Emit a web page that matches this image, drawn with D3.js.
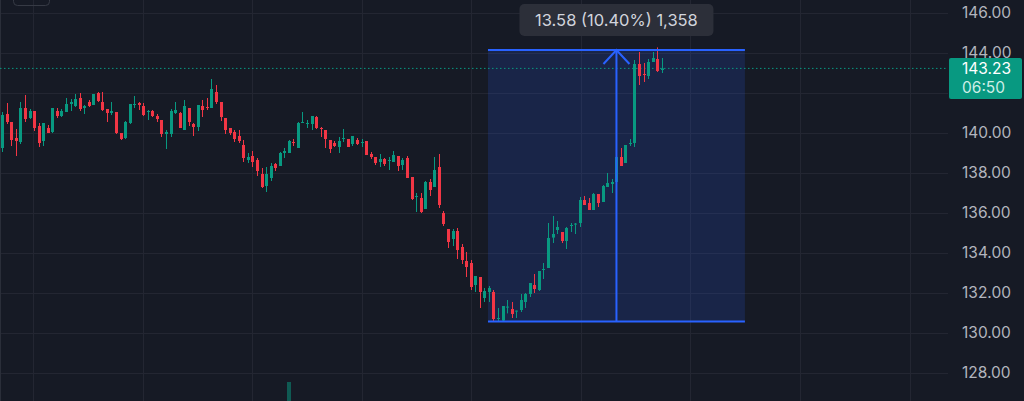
<!DOCTYPE html>
<html>
<head>
<meta charset="utf-8">
<script src="https://cdn.jsdelivr.net/npm/d3@7"></script>
<style>
  html, body { margin: 0; padding: 0; background: #161a25; overflow: hidden; }
  text { font-family: "Inter", "Roboto", sans-serif; }
</style>
</head>
<body>
<div id="chart"></div>
<script>
// candles: [open, high, low, close]
var ohlc = [
  [139.25,141.05,139.05,140.90],[140.95,141.50,140.45,140.55],[140.55,140.55,139.35,139.65],[139.75,140.20,138.85,139.60],
  [139.55,141.55,139.45,141.25],[141.25,141.90,140.55,140.70],[140.75,141.20,140.70,141.10],[141.10,141.10,140.10,140.25],
  [140.35,140.50,139.30,139.50],[139.60,140.50,139.35,140.50],[140.25,140.40,140.00,140.00],[140.05,141.25,140.00,141.25],
  [141.10,141.25,140.75,140.85],[140.85,141.20,140.80,141.10],[141.05,141.75,141.05,141.45],[141.45,141.70,141.10,141.55],
  [141.35,141.95,141.30,141.70],[141.75,142.00,141.10,141.20],[141.25,141.40,140.95,141.35],[141.55,141.65,141.30,141.35],
  [141.40,141.95,141.40,141.95],[142.00,142.05,141.55,141.60],[141.55,142.05,141.10,141.15],[141.20,141.20,140.55,141.00],
  [141.00,141.55,140.90,141.10],[141.05,141.05,139.95,140.00],[140.00,140.00,139.65,139.70],[139.75,140.60,139.70,140.55],
  [140.50,141.45,140.45,141.45],[141.40,141.85,141.25,141.45],[141.50,141.55,141.15,141.40],[141.35,141.50,140.85,140.90],
  [141.05,141.15,140.65,141.10],[141.10,141.15,140.80,140.85],[140.85,140.95,140.55,140.70],[140.65,140.65,139.80,139.95],
  [139.95,140.15,139.20,140.05],[139.95,141.20,139.80,141.10],[141.00,141.55,140.95,141.15],[141.00,141.05,140.25,140.25],
  [140.15,141.65,140.15,141.35],[141.25,141.25,140.35,140.55],[140.45,140.50,139.85,140.30],[140.30,141.40,140.10,141.40],
  [141.35,141.65,140.80,141.15],[141.30,141.75,141.15,141.25],[141.25,142.70,141.25,142.20],[142.05,142.40,141.45,141.55],
  [141.55,141.55,140.60,140.80],[140.75,140.75,139.95,140.15],[140.25,140.25,139.90,140.00],[140.05,140.15,139.55,139.70],
  [139.85,140.15,139.50,139.60],[139.40,139.65,138.55,138.75],[138.65,139.00,138.50,138.80],[138.85,139.10,138.30,138.55],
  [138.65,138.75,137.85,138.10],[137.95,138.25,137.25,137.30],[137.35,138.30,137.05,137.95],[137.75,138.50,137.60,138.35],
  [138.45,138.50,138.10,138.25],[138.35,139.05,138.35,139.00],[139.00,139.25,138.75,139.10],[139.00,139.65,139.00,139.60],
  [139.55,139.70,139.35,139.50],[139.25,140.55,139.25,140.50],[140.50,141.05,140.50,140.55],[140.45,140.65,140.25,140.50],
  [140.45,140.85,140.15,140.85],[140.80,140.85,140.20,140.25],[140.25,140.30,139.80,140.20],[140.15,140.15,139.25,139.70],
  [139.65,139.65,139.00,139.20],[139.50,139.60,139.30,139.35],[139.30,139.80,139.00,139.60],[139.70,140.20,139.55,139.75],
  [139.70,139.70,139.30,139.30],[139.45,139.85,139.35,139.85],[139.65,139.75,139.40,139.45],[139.50,139.70,139.30,139.55],
  [139.60,139.60,138.90,138.90],[138.95,139.05,138.70,138.80],[138.80,138.80,138.40,138.50],[138.55,138.95,138.30,138.70],
  [138.70,138.75,138.35,138.45],[138.60,138.80,138.15,138.65],[138.55,139.10,138.55,138.90],[138.85,138.85,138.10,138.35],
  [138.40,138.75,138.15,138.65],[138.75,138.85,137.75,137.75],[137.80,137.80,136.65,136.70],[136.80,137.00,136.05,136.85],
  [136.75,137.00,136.00,136.05],[136.20,137.60,136.20,137.55],[137.55,137.70,136.85,137.15],[137.30,138.80,137.30,138.15],
  [138.30,138.95,136.25,136.40],[136.00,136.10,135.35,135.45],[135.20,135.20,134.25,134.55],[134.70,135.20,134.35,135.10],
  [135.10,135.25,133.70,134.15],[134.30,134.45,133.45,133.65],[133.60,134.05,132.80,133.30],[133.50,133.65,132.15,132.30],
  [132.40,132.85,132.05,132.85],[132.80,132.80,131.25,132.05],[131.75,132.25,131.55,132.10],[132.05,132.35,131.55,132.25],
  [132.05,132.15,130.60,130.70],[130.70,131.25,130.60,130.75],[130.62,131.35,130.57,131.35],[131.28,131.65,130.98,131.32],
  [131.20,131.55,130.75,130.95],[131.07,131.12,130.75,131.12],[131.15,131.95,131.05,131.65],[131.55,132.00,131.25,131.95],
  [131.95,132.50,131.80,132.50],[132.40,132.95,132.00,132.20],[132.15,133.10,132.10,133.10],[133.15,133.50,132.70,133.20],
  [133.25,135.50,133.25,134.75],[134.77,135.85,134.50,134.95],[135.15,135.60,134.95,135.30],[135.05,135.05,134.50,134.60],
  [134.60,135.30,134.20,135.25],[135.37,135.50,135.05,135.40],[135.43,135.50,134.95,135.47],[135.50,136.80,135.30,136.65],
  [136.65,136.85,136.40,136.40],[136.50,136.75,136.15,136.15],[136.15,137.00,136.15,136.95],[136.95,136.95,136.30,136.50],
  [136.55,137.40,136.55,137.35],[137.30,138.00,137.30,137.50],[137.45,137.70,137.00,137.55],[137.55,138.80,137.55,138.80],
  [138.80,139.25,138.35,138.35],[138.50,139.40,138.50,139.40],[139.45,139.70,139.35,139.50],[139.50,143.65,139.30,143.45],
  [143.45,144.05,142.40,142.85],[142.95,143.50,142.55,142.90],[142.85,143.70,142.70,143.55],[143.55,144.05,143.55,143.75],
  [143.70,144.28,143.05,143.10],[143.15,143.75,143.00,143.23]
];

// 142.00 sits under the last-price tag, so it is not labelled
var priceTicks = [128, 130, 132, 134, 136, 138, 140, 142, 144, 146];
var priceLabels = [128, 130, 132, 134, 136, 138, 140, 144, 146];
var timeGrid = [6.75, 30.9, 55.0, 79.1, 103.1, 127.2, 151.3, 175.4, 199.5];
var volumeBars = [{ idx: 63, vol: 1 }];

var lastPrice = 143.23;
var countdown = "06:50";

// price range measure
var measStart = 106.8, measEnd = 163.3;
var measLow = 130.57, measHigh = 144.15;

var W = 1024, H = 401, plotRight = 948;
var up = "#089981", down = "#f23645";

var svg = d3.select("#chart").append("svg")
    .attr("width", W).attr("height", H)
    .style("display", "block");

svg.append("rect").attr("width", W).attr("height", H).attr("fill", "#161a25");

var x = d3.scaleLinear().domain([0, ohlc.length - 1]).range([2.3, 661.7]);
var y = d3.scaleLinear().domain([128, 146]).range([373, 13]);

// grid
svg.append("g").selectAll("line").data(timeGrid).join("line")
    .attr("x1", d => Math.round(x(d)) + 0.5).attr("x2", d => Math.round(x(d)) + 0.5)
    .attr("y1", 0).attr("y2", H)
    .attr("stroke", "#232632").attr("stroke-width", 1);

svg.append("g").selectAll("line").data(priceTicks).join("line")
    .attr("x1", 0).attr("x2", plotRight)
    .attr("y1", d => Math.round(y(d)) + 0.5).attr("y2", d => Math.round(y(d)) + 0.5)
    .attr("stroke", "#232632").attr("stroke-width", 1);

// left edge border
svg.append("line").attr("x1", 0.5).attr("x2", 0.5).attr("y1", 0).attr("y2", H)
    .attr("stroke", "#2a2e39");

// small button outline top left
svg.append("rect").attr("x", 13.5).attr("y", -10).attr("width", 36).attr("height", 15.5)
    .attr("rx", 4).attr("fill", "none").attr("stroke", "#363a45");

// measure box
var mx0 = x(measStart), mx1 = x(measEnd);
var myTop = y(measHigh), myBot = y(measLow);
var ax = (mx0 + mx1) / 2;

svg.append("rect")
    .attr("x", mx0).attr("y", myTop)
    .attr("width", mx1 - mx0).attr("height", myBot - myTop)
    .attr("fill", "rgba(41,98,255,0.16)");

// volume
var vScale = d3.scaleLinear().domain([0, 1]).range([H, 382]);
svg.append("g").selectAll("rect").data(volumeBars).join("rect")
    .attr("x", d => Math.round(x(d.idx)) - 2).attr("width", 4)
    .attr("y", d => vScale(d.vol)).attr("height", d => H - vScale(d.vol))
    .attr("fill", "rgba(8,153,129,0.5)");

// current price dotted line
svg.append("line")
    .attr("x1", 0).attr("x2", plotRight)
    .attr("y1", y(lastPrice)).attr("y2", y(lastPrice))
    .attr("stroke", up).attr("stroke-width", 1)
    .attr("stroke-dasharray", "1.5,2.5");

// candles
var candles = svg.append("g").selectAll("g").data(ohlc).join("g");
candles.append("line")
    .attr("x1", (d, i) => Math.round(x(i)) + 0.5).attr("x2", (d, i) => Math.round(x(i)) + 0.5)
    .attr("y1", d => y(d[1])).attr("y2", d => y(d[2]))
    .attr("stroke", d => d[3] >= d[0] ? up : down).attr("stroke-width", 1);
candles.append("rect")
    .attr("x", (d, i) => Math.round(x(i)) - 1)
    .attr("width", 3)
    .attr("y", d => y(Math.max(d[0], d[3])))
    .attr("height", d => Math.max(1, Math.abs(y(d[0]) - y(d[3]))))
    .attr("fill", d => d[3] >= d[0] ? up : down);

// measure lines + arrow
var blue = "#2962ff";
svg.append("line").attr("x1", mx0).attr("x2", mx1).attr("y1", myTop).attr("y2", myTop)
    .attr("stroke", blue).attr("stroke-width", 2);
svg.append("line").attr("x1", mx0).attr("x2", mx1).attr("y1", myBot).attr("y2", myBot)
    .attr("stroke", blue).attr("stroke-width", 2);
svg.append("line").attr("x1", ax).attr("x2", ax).attr("y1", myBot).attr("y2", myTop)
    .attr("stroke", blue).attr("stroke-width", 2);
svg.append("path")
    .attr("d", "M" + (ax - 13) + "," + (myTop + 14) + "L" + ax + "," + myTop + "L" + (ax + 13) + "," + (myTop + 14))
    .attr("fill", "none").attr("stroke", blue).attr("stroke-width", 2);

var diff = measHigh - measLow;
var label = diff.toFixed(2) + " (" + (diff / measLow * 100).toFixed(2) + "%) " +
    d3.format(",")(Math.round(diff * 100));
var lab = svg.append("g");
lab.append("rect")
    .attr("x", ax - 97).attr("y", 4).attr("width", 194).attr("height", 32).attr("rx", 5)
    .attr("fill", "#2c2f39");
lab.append("text")
    .attr("x", ax).attr("y", 20).attr("dy", "0.35em")
    .attr("text-anchor", "middle")
    .attr("fill", "#d1d4dc").style("font-size", "16.5px")
    .text(label);

// price axis labels
svg.append("g").selectAll("text").data(priceLabels).join("text")
    .attr("x", 962).attr("y", d => y(d)).attr("dy", "0.35em")
    .attr("fill", "#b2b5be").style("font-size", "15.5px")
    .text(d => d.toFixed(2));

// last price tag
var tag = svg.append("g");
tag.append("rect")
    .attr("x", 949).attr("y", y(lastPrice) - 10.5).attr("width", 73).attr("height", 41).attr("rx", 2)
    .attr("fill", up);
tag.append("text")
    .attr("x", 962).attr("y", y(lastPrice)).attr("dy", "0.35em")
    .attr("fill", "#ffffff").style("font-size", "15.5px")
    .text(lastPrice.toFixed(2));
tag.append("text")
    .attr("x", 962).attr("y", y(lastPrice) + 19).attr("dy", "0.35em")
    .attr("fill", "#cdeee7").style("font-size", "15.5px")
    .text(countdown);
</script>
</body>
</html>
